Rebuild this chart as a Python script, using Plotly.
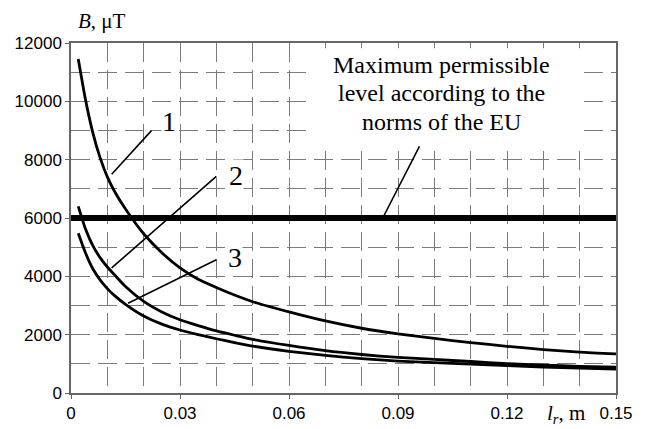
import plotly.graph_objects as go

# ---- data ----
l_r = [0.002, 0.004, 0.006, 0.008, 0.010, 0.012, 0.015, 0.020, 0.025, 0.030, 0.035, 0.040,
       0.045, 0.050, 0.060, 0.070, 0.080, 0.090, 0.100, 0.110, 0.120, 0.130, 0.140, 0.150]
B1 = [11450, 10050, 8930, 8070, 7410, 6910, 6310, 5460, 4810, 4290, 3900, 3620,
      3360, 3130, 2780, 2470, 2220, 2030, 1870, 1730, 1600, 1490, 1400, 1340]
B2 = [6400, 5620, 5050, 4640, 4320, 4050, 3650, 3140, 2780, 2510, 2310, 2130,
      1980, 1840, 1630, 1450, 1320, 1220, 1150, 1080, 1010, 955, 915, 890]
B3 = [5480, 4800, 4260, 3880, 3580, 3340, 3040, 2640, 2360, 2160, 2000, 1860,
      1730, 1610, 1430, 1290, 1175, 1095, 1040, 990, 940, 890, 850, 820]
EU_LIMIT = 6000
x_ticks = [0, 0.03, 0.06, 0.09, 0.12, 0.15]
x_tick_text = ["0", "0.03", "0.06", "0.09", "0.12", "0.15"]
y_ticks = [0, 2000, 4000, 6000, 8000, 10000, 12000]
y_tick_text = ["0", "2000", "4000", "6000", "8000", "10000", "12000"]

curve_labels = ["1", "2", "3"]
label_pos = [(0.0269, 9320), (0.0455, 7470), (0.0451, 4650)]
leader_start = [(0.0112, 7500), (0.0112, 4290), (0.0157, 3080)]
leader_end = [(0.0222, 9003), (0.0400, 7425), (0.0400, 4570)]
eu_lines = ["Maximum permissible", "level according to the", "norms of the EU"]
eu_line_y = [11240, 10270, 9280]
eu_text_x = 0.1021
eu_leader = [(0.0858, 6000), (0.0959, 8454)]
eu_box = [(0.0655, 8420), (0.1408, 11820)]

serif = "Liberation Serif, Times New Roman, serif"
sans = "Liberation Sans, Arial, sans-serif"

fig = go.Figure()
for ys in (B1, B2, B3):
    fig.add_trace(go.Scatter(x=l_r, y=ys, mode="lines",
                             line=dict(color="black", width=2.8, shape="spline", smoothing=0.6),
                             showlegend=False, hoverinfo="skip"))
fig.add_trace(go.Scatter(x=[x_ticks[0], x_ticks[-1]], y=[EU_LIMIT, EU_LIMIT], mode="lines",
                         line=dict(color="black", width=6), showlegend=False, hoverinfo="skip"))

shapes = [dict(type="rect", xref="x", yref="y", x0=eu_box[0][0], y0=eu_box[0][1],
               x1=eu_box[1][0], y1=eu_box[1][1], fillcolor="white", line=dict(width=0),
               layer="between")]
for (xs, ys), (xe, ye) in zip(leader_start, leader_end):
    shapes.append(dict(type="line", xref="x", yref="y", x0=xs, y0=ys, x1=xe, y1=ye,
                       line=dict(color="black", width=1.6)))
shapes.append(dict(type="line", xref="x", yref="y", x0=eu_leader[0][0], y0=eu_leader[0][1],
                   x1=eu_leader[1][0], y1=eu_leader[1][1], line=dict(color="black", width=1.6)))

annotations = []
for lab, (lx, ly) in zip(curve_labels, label_pos):
    annotations.append(dict(x=lx, y=ly, xref="x", yref="y", text=lab, showarrow=False,
                            font=dict(family=serif, size=28, color="black"),
                            bgcolor="white", borderpad=0))
for line_txt, ly in zip(eu_lines, eu_line_y):
    annotations.append(dict(x=eu_text_x, y=ly, xref="x", yref="y", text=line_txt,
                            showarrow=False, font=dict(family=serif, size=24, color="black")))
annotations.append(dict(xref="paper", yref="paper", x=(76 - 71) / 545, y=1 + (43 - 21) / 350,
                        text="<i>B</i>, μT", showarrow=False,
                        font=dict(family=serif, size=21, color="black"),
                        xanchor="left", yanchor="middle"))
annotations.append(dict(xref="paper", yref="paper", x=(545 - 71) / 545, y=-(414 - 393) / 350,
                        text="<i>l</i><sub><i>r</i></sub>, m", showarrow=False,
                        font=dict(family=serif, size=21, color="black"),
                        xanchor="left", yanchor="middle"))

grid_kw = dict(gridcolor="#7a7a7a", gridwidth=1.3, griddash="19px,8px")
axis_common = dict(showline=True, linecolor="#666", linewidth=1.5, mirror=True,
                   ticks="outside", ticklen=4, tickcolor="#666", showgrid=True,
                   zeroline=False, automargin=False,
                   tickfont=dict(family=sans, size=17, color="black"), **grid_kw)
fig.update_layout(
    width=640, height=421,
    margin=dict(l=63, r=32, t=35, b=36),
    paper_bgcolor="white", plot_bgcolor="white",
    shapes=shapes, annotations=annotations,
    xaxis=dict(range=[0, 0.15], tickvals=x_ticks, ticktext=x_tick_text,
               minor=dict(dtick=0.01, tick0=0, showgrid=True, **grid_kw), **axis_common),
    yaxis=dict(range=[0, 12000], tickvals=y_ticks, ticktext=y_tick_text,
               minor=dict(dtick=1000, tick0=0, showgrid=True, **grid_kw), **axis_common),
)
fig.write_html("out.html")
